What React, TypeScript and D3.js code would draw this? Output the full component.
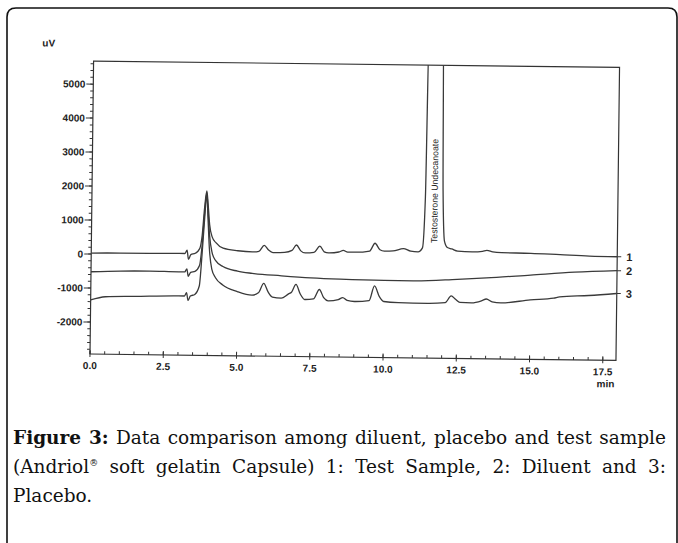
import React, { useLayoutEffect, useRef, useState } from 'react'
import * as d3 from 'd3'

// retention time (min), signal (uV)
const testSample: [number, number][] = [
  [0, 30], [1, 40], [2, 40], [3, 50], [3.2, 50], [3.27, 150], [3.32, -120], [3.4, 20],
  [3.55, 60], [3.7, 200], [3.78, 600], [3.85, 1400], [3.92, 1900], [3.97, 1500], [4.03, 900],
  [4.12, 550], [4.25, 380], [4.5, 220], [5.0, 150], [5.5, 120], [5.72, 140], [5.9, 320],
  [6.05, 180], [6.2, 110], [6.6, 120], [6.85, 180], [7.0, 340], [7.15, 170], [7.3, 110],
  [7.6, 130], [7.8, 315], [7.95, 150], [8.1, 120], [8.45, 150], [8.6, 200], [8.75, 150],
  [9.0, 150], [9.5, 190], [9.68, 420], [9.85, 230], [10.0, 190], [10.3, 200], [10.65, 275],
  [10.9, 200], [11.15, 180], [11.3, 300], [11.38, 1800], [11.44, 7000], [11.92, 7000],
  [11.98, 2000], [12.05, 500], [12.15, 320], [12.3, 280], [12.5, 220], [13.0, 200],
  [13.35, 220], [13.5, 250], [13.7, 210], [14.0, 190], [15.0, 180], [16.0, 150], [17.0, 120],
  [17.95, 110],
]

const diluent: [number, number][] = [
  [0, -520], [1, -490], [2, -480], [3, -490], [3.2, -490], [3.27, -400], [3.32, -620],
  [3.4, -500], [3.55, -470], [3.7, -300], [3.78, 300], [3.85, 1200], [3.92, 1850],
  [3.97, 1300], [4.03, 600], [4.12, 100], [4.25, -150], [4.5, -320], [5.0, -450],
  [5.5, -510], [6.5, -570], [7.5, -620], [8.5, -650], [10.0, -670], [11.0, -670],
  [12.5, -610], [13.5, -560], [15.0, -460], [16.5, -360], [17.95, -300],
]

const placebo: [number, number][] = [
  [0, -1350], [0.5, -1250], [1.5, -1230], [3, -1200], [3.2, -1200], [3.27, -1100],
  [3.32, -1330], [3.4, -1200], [3.55, -1150], [3.7, -900], [3.78, 0], [3.85, 1000],
  [3.92, 1800], [3.97, 1100], [4.03, 200], [4.12, -400], [4.25, -650], [4.5, -860],
  [5.0, -1050], [5.5, -1150], [5.72, -1080], [5.9, -800], [6.05, -1050], [6.2, -1200],
  [6.5, -1230], [6.75, -1100], [6.85, -1050], [7.0, -820], [7.15, -1100], [7.3, -1260],
  [7.6, -1240], [7.8, -960], [7.95, -1200], [8.1, -1290], [8.45, -1250], [8.6, -1190],
  [8.75, -1270], [9.0, -1300], [9.5, -1270], [9.68, -835], [9.85, -1150], [10.0, -1290],
  [10.5, -1320], [11.5, -1330], [12.1, -1300], [12.3, -1100], [12.45, -1200], [12.6, -1290],
  [13.0, -1300], [13.35, -1230], [13.5, -1180], [13.7, -1260], [14.0, -1290], [15.0, -1190],
  [15.8, -1130], [16.0, -1090], [17.0, -1040], [17.95, -970],
]

const traces = [testSample, diluent, placebo]
const traceLabels = ['1', '2', '3']
const yTicks = [-2000, -1000, 0, 1000, 2000, 3000, 4000, 5000]
const xTicks = [0, 2.5, 5, 7.5, 10, 12.5, 15, 17.5]
const peakName = 'Testosterone Undecanoate'
const peakTime = 11.68

const W = 678
const H = 543
const plot = { left: 90, right: 616, top: 61, bottom: 354 }
const tilt = 0.7 // the scan is slightly rotated
const captionWidth = 653

const x = d3.scaleLinear().domain([0, 17.95]).range([plot.left, plot.right])
const y = d3.scaleLinear().domain([-2940, 5680]).range([plot.bottom, plot.top])

const line = d3
  .line<[number, number]>()
  .x(d => x(d[0]))
  .y(d => y(d[1]))
  .curve(d3.curveMonotoneX)

const yMinor = d3.range(-2800, 5601, 200)
const xMinor = d3.range(0, 17.95, 0.5)

const ink = '#333'
const axisFont = { fontFamily: 'Liberation Sans, Arial, sans-serif', fontWeight: 700, fontSize: 10, fill: '#222' }

export default function App() {
  const line1 = useRef<SVGTextElement>(null)
  const line2 = useRef<SVGTextElement>(null)
  const [spacing, setSpacing] = useState([0, 0])

  // justify the first two caption lines by stretching the word gaps
  useLayoutEffect(() => {
    const ws = [line1.current, line2.current].map(el => {
      if (!el) return 0
      const gaps = (el.textContent || '').split(' ').length - 1
      return Math.max(0, (captionWidth - el.getComputedTextLength()) / gaps)
    })
    setSpacing(ws)
  }, [])

  return (
    <svg width={W} height={H} style={{ position: 'absolute', left: 0, top: 0, background: '#fff' }}>
      <rect width={W} height={H} fill="#fff" />
      <path d={`M7,${H + 10} V17 Q7,8 16,8 H668 Q677,8 677,17 V${H + 10}`} fill="none" stroke="#111" strokeWidth={1.6} />

      <g transform={`rotate(${tilt}, ${plot.left}, ${plot.bottom})`}>
        <defs>
          <clipPath id="plotClip">
            <rect x={plot.left} y={plot.top} width={plot.right - plot.left} height={plot.bottom - plot.top} />
          </clipPath>
        </defs>

        <rect x={plot.left} y={plot.top} width={plot.right - plot.left} height={plot.bottom - plot.top}
          fill="none" stroke={ink} strokeWidth={1.2} />

        {yMinor.map(v => (
          <line key={'ym' + v} x1={plot.left - 3} x2={plot.left} y1={y(v)} y2={y(v)} stroke={ink} strokeWidth={1} />
        ))}
        {yTicks.map(v => (
          <g key={'y' + v}>
            <line x1={plot.left - 7} x2={plot.left} y1={y(v)} y2={y(v)} stroke={ink} strokeWidth={1} />
            <text x={plot.left - 8} y={y(v)} dy="0.35em" textAnchor="end" {...axisFont}>{v}</text>
          </g>
        ))}
        <text x={45} y={47} textAnchor="middle" {...axisFont}>uV</text>

        {xMinor.map(v => (
          <line key={'xm' + v} x1={x(v)} x2={x(v)} y1={plot.bottom - 3} y2={plot.bottom} stroke={ink} strokeWidth={1} />
        ))}
        {xTicks.map(v => (
          <g key={'x' + v}>
            <line x1={x(v)} x2={x(v)} y1={plot.bottom - 4} y2={plot.bottom + 3} stroke={ink} strokeWidth={1} />
            <text x={x(v)} y={plot.bottom + 15} textAnchor="middle" {...axisFont}>{v.toFixed(1)}</text>
          </g>
        ))}
        <text x={x(17.5) + 3} y={plot.bottom + 27} textAnchor="middle" {...axisFont}>min</text>

        <g clipPath="url(#plotClip)">
          {traces.map((t, i) => (
            <path key={i} d={line(t) || ''} fill="none" stroke="#3a3a3a" strokeWidth={1.3} strokeLinejoin="round" />
          ))}
        </g>

        {traces.map((t, i) => {
          const last = t[t.length - 1]
          return (
            <g key={'l' + i}>
              <line x1={plot.right} x2={plot.right + 4} y1={y(last[1])} y2={y(last[1])} stroke={ink} strokeWidth={1} />
              <text x={plot.right + 9} y={y(last[1])} dy="0.38em" {...axisFont} fontSize={11}>{traceLabels[i]}</text>
            </g>
          )
        })}

        <text
          transform={`translate(${x(peakTime) + 3.5}, ${y(450)}) rotate(-90)`}
          fontFamily="Liberation Sans, Arial, sans-serif"
          fontSize={9}
          fill="#222"
          textLength={104}
          lengthAdjust="spacingAndGlyphs"
        >
          {peakName}
        </text>
      </g>

      <g fontFamily="'DejaVu Serif', serif" fontSize={18.5} fill="#111">
        <text ref={line1} x={13} y={444} wordSpacing={spacing[0]}>
          <tspan fontWeight={700}>Figure 3:</tspan> Data comparison among diluent, placebo and test sample
        </text>
        <text ref={line2} x={13} y={473} wordSpacing={spacing[1]}>
          (Andriol<tspan fontSize={9} dy={-7}>®</tspan><tspan dy={7}> soft gelatin Capsule) 1: Test Sample, 2: Diluent and 3:</tspan>
        </text>
        <text x={13} y={502}>Placebo.</text>
      </g>
    </svg>
  )
}
